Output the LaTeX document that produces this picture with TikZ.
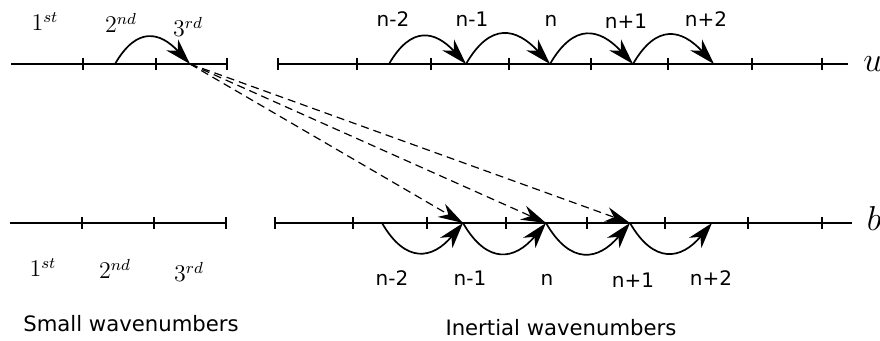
\documentclass[tikz,border=0pt]{standalone}
\usepackage{fontspec}
\setsansfont{DejaVu Sans}
\usetikzlibrary{positioning, arrows.meta}

\begin{document}
\begin{tikzpicture}[x=0.5pt, y=-0.5pt,
      axis/.style={line width=1pt},
      tick/.style={line width=0.9pt},
      hop/.style={-{Stealth[length=13pt,width=8pt,inset=4pt]}, line width=0.85pt},
      link/.style={-{Stealth[length=12.5pt,width=7.5pt,inset=4pt]}, line width=0.6pt,
                   dash pattern=on 4pt off 2.5pt},
      idx/.style={font=\sffamily\fontsize{10}{12}\selectfont, anchor=base},
      ord/.style={font=\large, anchor=base},
      var/.style={font=\fontsize{16}{18}\selectfont, anchor=base},
      title/.style={font=\sffamily\fontsize{10.6}{13}\selectfont, anchor=base}]
    \useasboundingbox (0,0) rectangle (880,341);

    % axes
    \draw[axis] (11,64) -- (227,64);
    \draw[axis] (278,64) -- (848,64);
    \draw[axis] (10,223) -- (226,223);
    \draw[axis] (275,223) -- (852,223);
    \foreach \x in {83,156,227,278,357,431,509,591,668,752,822}
      \draw[tick] (\x,58) -- (\x,70);
    \foreach \x in {82,154,226,275,353,427,506,587,665,748,822}
      \draw[tick] (\x,217) -- (\x,229);

    % points on the axes
    \coordinate (u2) at (115,64);
    \coordinate (u3) at (190,64);
    \coordinate (um2) at (389,64);
    \coordinate (um1) at (466,64);
    \coordinate (un) at (550,64);
    \coordinate (up1) at (633,64);
    \coordinate (up2) at (714,64);
    \coordinate (bm2) at (382,223);
    \coordinate (bm1) at (463,223);
    \coordinate (bn) at (546,223);
    \coordinate (bp1) at (630,223);
    \coordinate (bp2) at (712,223);

    % labels
    \node[ord] (t1) at (45,31) {$1^{st}$};
    \node[ord] (t2) at (121,33) {$2^{nd}$};
    \node[ord] (t3) at (188,37) {$3^{rd}$};
    \node[ord] (s1) at (43,277) {$1^{st}$};
    \node[ord] (s2) at (115,279) {$2^{nd}$};
    \node[ord] (s3) at (189,282) {$3^{rd}$};
    \node[idx] (tm2) at (393,27) {n-2};
    \node[idx] (tm1) at (472,27) {n-1};
    \node[idx] (tn) at (551,27) {n};
    \node[idx] (tp1) at (626,29) {n+1};
    \node[idx] (tp2) at (706,27) {n+2};
    \node[idx] (sm2) at (392,286) {n-2};
    \node[idx] (sm1) at (470,286) {n-1};
    \node[idx] (sn) at (547,286) {n};
    \node[idx] (sp1) at (633,288) {n+1};
    \node[idx] (sp2) at (711,286) {n+2};
    \node[var] (u) at (873,72) {$u$};
    \node[var] (b) at (874,231) {$b$};
    \node[title] (small) at (131,332) {Small wavenumbers};
    \node[title] (inert) at (561,336) {Inertial wavenumbers};

    % transfers
    \draw[hop] (u2) to[out=60, in=133, looseness=1.5] (u3);
    \draw[hop] (um2) to[out=60, in=133, looseness=1.5] (um1);
    \draw[hop] (um1) to[out=60, in=133, looseness=1.5] (un);
    \draw[hop] (un) to[out=60, in=133, looseness=1.5] (up1);
    \draw[hop] (up1) to[out=60, in=133, looseness=1.5] (up2);
    \draw[hop] (bm2) to[out=-60, in=-130, looseness=1.5] (bm1);
    \draw[hop] (bm1) to[out=-60, in=-130, looseness=1.5] (bn);
    \draw[hop] (bn) to[out=-60, in=-130, looseness=1.5] (bp1);
    \draw[hop] (bp1) to[out=-60, in=-130, looseness=1.5] (bp2);
    \draw[link] (u3) -- (bm1);
    \draw[link] (u3) -- (bn);
    \draw[link] (u3) -- (bp1);
\end{tikzpicture}
\end{document}
